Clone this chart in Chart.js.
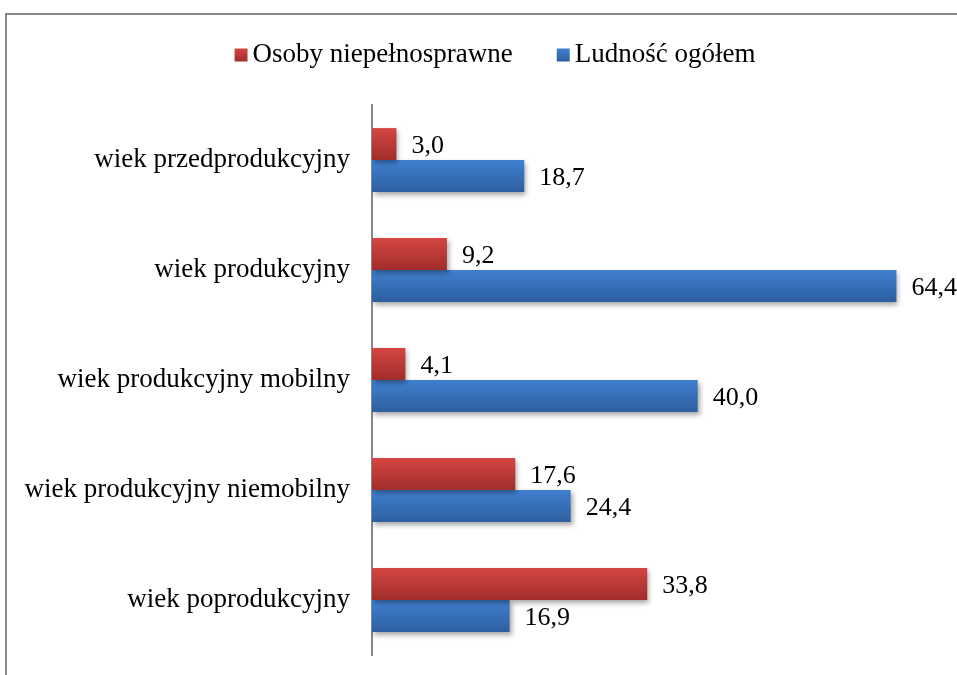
<!DOCTYPE html>
<html>
<head>
<meta charset="utf-8">
<script src="https://cdn.jsdelivr.net/npm/chart.js@4/dist/chart.umd.min.js"></script>
<style>
  html, body { margin: 0; padding: 0; background: #fff; overflow: hidden; }
  #wrap { position: relative; width: 957px; height: 675px; }
  #frame { position: absolute; left: 5px; top: 13px; width: 1000px; height: 800px; border: 2px solid #878787; box-sizing: border-box; pointer-events: none; }
  canvas { position: absolute; left: 0; top: 0; }
</style>
</head>
<body>
<div id="wrap">
  <canvas id="c" width="957" height="675"></canvas>
  <div id="frame"></div>
</div>
<script>
const categories = [
  'wiek przedprodukcyjny',
  'wiek produkcyjny',
  'wiek produkcyjny mobilny',
  'wiek produkcyjny niemobilny',
  'wiek poprodukcyjny'
];
const seriesNames = ['Osoby niepełnosprawne', 'Ludność ogółem'];
const disabledValues = [3.0, 9.2, 4.1, 17.6, 33.8];
const totalValues = [18.7, 64.4, 40.0, 24.4, 16.9];

const FONT = "'Liberation Serif', 'Times New Roman', serif";
const gradStops = [
  ['#d44542', '#a02d2a'],
  ['#4080d0', '#2d5f9f']
];
const legendSolid = ['#c0393a', '#3a72c0'];

const fmt = v => v.toFixed(1).replace('.', ',');

const barStyle = {
  id: 'barStyle',
  beforeDatasetsDraw(chart) {
    const ctx = chart.ctx;
    ctx.save();
    ctx.shadowColor = 'rgba(0,0,0,0.35)';
    ctx.shadowBlur = 5;
    ctx.shadowOffsetX = 2;
    ctx.shadowOffsetY = 3;
  },
  beforeDatasetDraw(chart, args) {
    const ctx = chart.ctx;
    const meta = args.meta;
    const stops = gradStops[args.index];
    meta.data.forEach(el => {
      const top = el.y - el.height / 2;
      const bot = el.y + el.height / 2;
      const g = ctx.createLinearGradient(0, top, 0, bot);
      g.addColorStop(0, stops[0]);
      g.addColorStop(1, stops[1]);
      el.options = Object.assign({}, el.options, { backgroundColor: g });
    });
  },
  afterDatasetsDraw(chart) {
    const ctx = chart.ctx;
    ctx.restore();
    ctx.save();
    ctx.font = '26px ' + FONT;
    ctx.fillStyle = '#000';
    ctx.textAlign = 'left';
    ctx.textBaseline = 'middle';
    chart.data.datasets.forEach((ds, di) => {
      const meta = chart.getDatasetMeta(di);
      meta.data.forEach((el, i) => {
        ctx.fillText(fmt(ds.data[i]), el.x + 15, el.y + 2);
      });
    });
    ctx.restore();
  },
  afterDraw(chart) {
    const ctx = chart.ctx;
    ctx.save();
    ctx.font = '27px ' + FONT;
    ctx.textBaseline = 'middle';
    ctx.textAlign = 'left';
    const box = 13, gap = 5, itemGap = 44;
    const widths = seriesNames.map(n => ctx.measureText(n).width);
    let total = 0;
    widths.forEach((w, i) => { total += box + gap + w + (i < widths.length - 1 ? itemGap : 0); });
    let x = 495 - total / 2;
    const cy = 55;
    seriesNames.forEach((n, i) => {
      const g = ctx.createLinearGradient(0, cy - box / 2, 0, cy + box / 2);
      g.addColorStop(0, gradStops[i][0]);
      g.addColorStop(1, gradStops[i][1]);
      ctx.fillStyle = g;
      ctx.fillRect(x, cy - box / 2, box, box);
      x += box + gap;
      ctx.fillStyle = '#000';
      ctx.fillText(n, x, cy);
      x += widths[i] + itemGap;
    });
    ctx.restore();
  }
};

new Chart(document.getElementById('c'), {
  type: 'bar',
  data: {
    labels: categories,
    datasets: [
      { label: seriesNames[0], data: disabledValues, backgroundColor: legendSolid[0], borderWidth: 0 },
      { label: seriesNames[1], data: totalValues, backgroundColor: legendSolid[1], borderWidth: 0 }
    ]
  },
  options: {
    indexAxis: 'y',
    responsive: false,
    animation: false,
    events: [],
    categoryPercentage: 0.58,
    barPercentage: 1.0,
    layout: { padding: { top: 105, bottom: 20, left: 0, right: 15 } },
    plugins: {
      legend: { display: false },
      tooltip: { enabled: false },
      title: { display: false }
    },
    scales: {
      x: {
        display: false,
        min: 0,
        max: 70
      },
      y: {
        afterFit(scale) {
          scale.width = 372;
          scale.paddingTop = 0;
          scale.paddingBottom = 0;
        },
        grid: { display: false, drawTicks: false },
        border: { display: true, color: '#878787', width: 2 },
        ticks: {
          color: '#000',
          padding: 22,
          font: { family: FONT, size: 27 }
        }
      }
    }
  },
  plugins: [barStyle]
});
</script>
</body>
</html>
